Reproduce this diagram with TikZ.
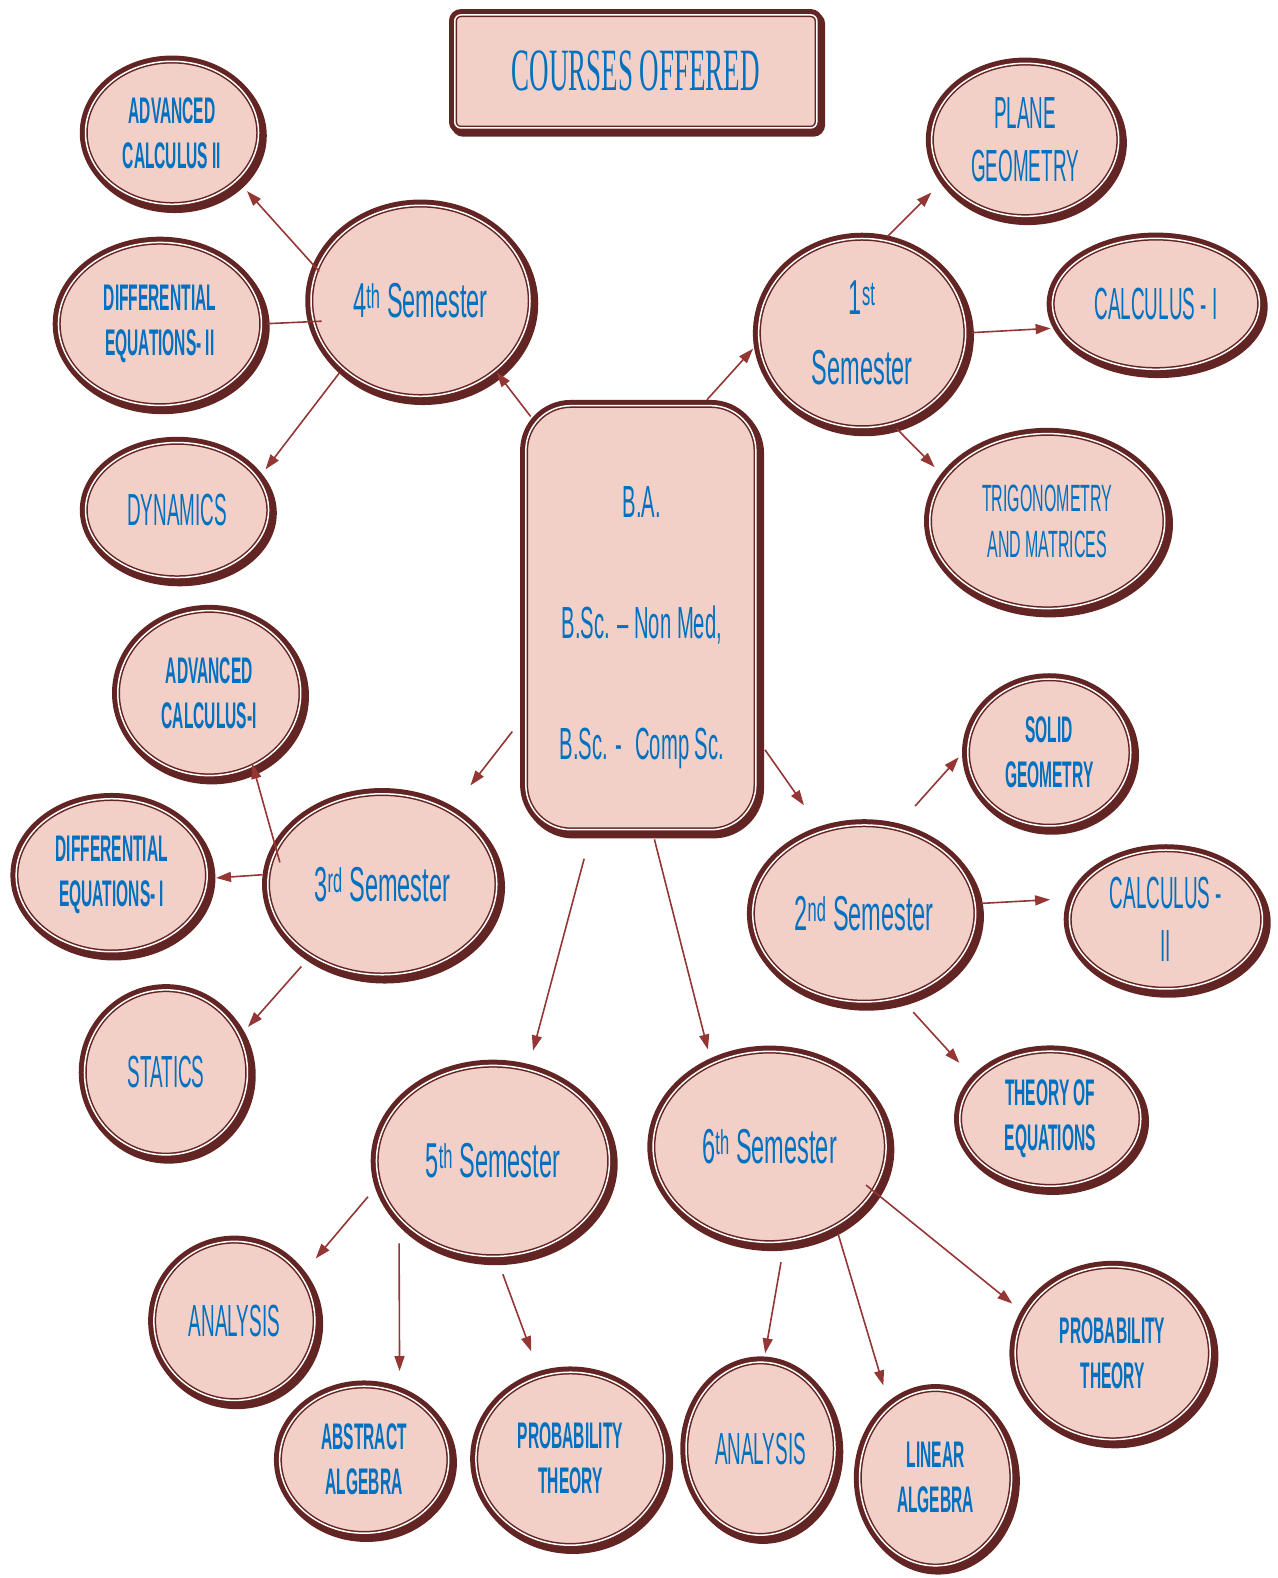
\documentclass[tikz,border=0pt]{standalone}
\usepackage{fontspec}
\usepackage{tikz}
\usetikzlibrary{arrows.meta, shapes.geometric}
\definecolor{pk}{HTML}{F2D0C8}
\definecolor{brn}{HTML}{632523}
\definecolor{arrbrn}{HTML}{943634}
\definecolor{txtblue}{HTML}{0070C0}
\newfontfamily\semfont{Liberation Sans}[FakeStretch=0.48]
\newfontfamily\capfont{Liberation Sans}[FakeStretch=0.42]
\newfontfamily\bafont{Liberation Sans}[FakeStretch=0.45]
\newfontfamily\titlefont{Liberation Serif}[FakeStretch=0.45]

\begin{document}
\begin{tikzpicture}[x=1.006pt, y=-1.006pt,
    rim/.style={draw=brn, line width=1.5pt, double=white, double distance=1.5pt, fill=pk,
      inner sep=0pt, outer sep=0pt, text=txtblue, align=center,
      preaction={draw=brn, line width=11.5pt, transform canvas={shift={(2.5pt,-3pt)}}},
      preaction={draw=brn, line width=11.5pt}},
    oval/.style={rim, ellipse},
    sem/.style={oval, font=\semfont\fontsize{49}{70}\selectfont},
    bfc/.style={oval, font=\capfont\bfseries\fontsize{37}{45}\selectfont},
    rgc/.style={oval, font=\capfont\fontsize{45}{53}\selectfont},
    arr/.style={-{Triangle[length=15pt,width=10pt]}, line width=1.6pt, draw=arrbrn}
]
\useasboundingbox (0pt,0pt) rectangle (1277pt,-1578pt);

% Title and programme box
\node[rim, rounded corners=6pt, minimum width=362pt, minimum height=113pt,
  font=\titlefont\fontsize{60}{60}\selectfont] (title) at (632,71) {COURSES OFFERED};
\node[rim, rounded corners=45pt, minimum width=230pt, minimum height=424pt] (ba) at (637,614) {};
\node[text=txtblue, align=center, font=\bafont\fontsize{45}{121}\selectfont] (batext) at (638,624)
  {B.A.\\B.Sc. – Non Med,\\B.Sc. -\, Comp Sc.};

% Semesters
\node[sem, minimum width=219pt, minimum height=191pt] (sem4) at (418,299) {4\textsuperscript{th} Semester};
\node[sem, minimum width=207pt, minimum height=189pt] (sem1) at (857,331) {1\textsuperscript{st}\\Semester};
\node[sem, minimum width=229pt, minimum height=181pt] (sem3) at (380,879) {3\textsuperscript{rd} Semester};
\node[sem, minimum width=223pt, minimum height=177pt] (sem2) at (859,908) {2\textsuperscript{nd} Semester};
\node[sem, minimum width=233pt, minimum height=191pt] (sem5) at (490,1154) {5\textsuperscript{th} Semester};
\node[sem, minimum width=233pt, minimum height=191pt] (sem6) at (765,1140) {6\textsuperscript{th} Semester};

% Papers of each semester
\node[bfc, minimum width=173pt, minimum height=143pt] (ac2) at (171,132) {ADVANCED\\CALCULUS II};
\node[bfc, minimum width=203pt, minimum height=163pt] (de2) at (159,322) {DIFFERENTIAL\\EQUATIONS- II};
\node[rgc, minimum width=183pt, minimum height=135pt] (dyn) at (176,507) {DYNAMICS};

\node[rgc, minimum width=187pt, minimum height=153pt] (pg) at (1019,139) {PLANE\\GEOMETRY};
\node[rgc, minimum width=207pt, minimum height=131pt] (calc1) at (1149,302) {CALCULUS - I};
\node[rgc, minimum width=235pt, minimum height=175pt, font=\capfont\fontsize{38}{46}\selectfont]
  (trig) at (1041,518) {TRIGONOMETRY\\AND MATRICES};

\node[bfc, minimum width=183pt, minimum height=165pt] (ac1) at (208,689) {ADVANCED\\CALCULUS-I};
\node[bfc, minimum width=191pt, minimum height=153pt] (de1) at (111,870) {DIFFERENTIAL\\EQUATIONS- I};
\node[rgc, minimum width=163pt, minimum height=165pt] (stat) at (165,1066) {STATICS};

\node[bfc, minimum width=163pt, minimum height=147pt] (sg) at (1043,748) {SOLID\\GEOMETRY};
\node[rgc, minimum width=193pt, minimum height=139pt] (calc2) at (1159,914) {CALCULUS -\\II};
\node[bfc, minimum width=181pt, minimum height=135pt] (te) at (1044,1112) {THEORY OF\\EQUATIONS};

\node[rgc, minimum width=161pt, minimum height=159pt] (an5) at (233,1313) {ANALYSIS};
\node[bfc, minimum width=169pt, minimum height=147pt] (aa) at (362,1451) {ABSTRACT\\ALGEBRA};
\node[bfc, minimum width=189pt, minimum height=173pt] (pt5) at (567,1450) {PROBABILITY\\THEORY};

\node[rgc, minimum width=149pt, minimum height=173pt] (an6) at (756,1440) {ANALYSIS};
\node[bfc, minimum width=152pt, minimum height=176pt] (la) at (930,1469) {LINEAR\\ALGEBRA};
\node[bfc, minimum width=195pt, minimum height=173pt] (pt6) at (1106,1345) {PROBABILITY\\THEORY};

% From the programmes to the semesters
\draw[arr, shorten <=-8pt, shorten >=2pt] (ba.119) -- (sem4.-43);
\draw[arr, shorten <=8pt, shorten >=9pt] (ba.74) -- (sem1.185);
\draw[arr, shorten <=22pt, shorten >=33pt] (ba.220) -- (sem3.47);
\draw[arr, shorten <=16pt, shorten >=32pt] (ba.-46) -- (sem2.117);
\draw[arr, shorten <=30pt, shorten >=20pt] (ba.257) -- (sem5.69);
\draw[arr, shorten <=10pt, shorten >=15pt] (ba.-87) -- (sem6.125);

% 4th semester
\draw[arr, shorten <=-3pt, shorten >=15pt] (sem4.163) -- (ac2.-36);
\draw[draw=arrbrn, line width=1.6pt, shorten <=-8pt, shorten >=6pt] (sem4.191) -- (de2.0);
\draw[arr, shorten <=6pt, shorten >=12pt] (sem4.221) -- (dyn.21);

% 1st semester
\draw[arr, shorten <=6pt, shorten >=19pt] (sem1.77) -- (pg.206);
\draw[arr, shorten <=6pt, shorten >=9pt] (sem1.0) -- (calc1.194);
\draw[arr, shorten <=7pt, shorten >=15pt] (sem1.-72) -- (trig.157);

% 3rd semester
\draw[arr, shorten <=-13pt, shorten >=-2pt] (sem3.162) -- (ac1.-59);
\draw[arr, shorten <=6pt, shorten >=9pt] (sem3.175) -- (de1.-2);
\draw[arr, shorten <=15pt, shorten >=13pt] (sem3.225) -- (stat.26);

% 2nd semester
\draw[arr, shorten <=30pt, shorten >=14pt] (sem2.70) -- (sg.176);
\draw[arr, shorten <=6pt, shorten >=24pt] (sem2.5) -- (calc2.167);
\draw[arr, shorten <=20pt, shorten >=24pt] (sem2.-67) -- (te.153);

% 5th semester
\draw[arr, shorten <=18pt, shorten >=23pt] (sem5.191) -- (an5.34);
\draw[arr, shorten <=26pt, shorten >=22pt] (sem5.211.4) -- (aa.62.2);
\draw[arr, shorten <=19pt, shorten >=27pt] (sem5.-88) -- (pt5.110);

% 6th semester
\draw[arr, shorten <=21pt, shorten >=9pt] (sem6.-81) -- (an6.88);
\draw[arr, shorten <=9pt, shorten >=23pt] (sem6.-50) -- (la.123);
\draw[arr, shorten <=-9pt, shorten >=17pt] (sem6.-23) -- (pt6.156);
\end{tikzpicture}
\end{document}
